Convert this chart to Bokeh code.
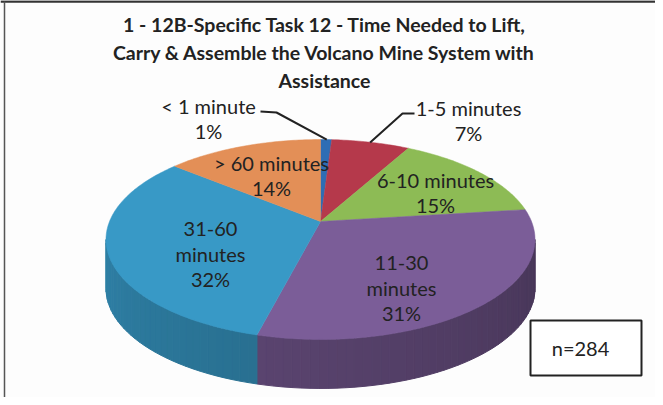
import math
from bokeh.plotting import figure
from bokeh.models import Range1d
from bokeh.core.properties import value
from bokeh.embed import file_html
from bokeh.resources import INLINE

# ---- data ----
categories = ["< 1 minute", "1-5 minutes", "6-10 minutes", "11-30 minutes", "31-60 minutes", "> 60 minutes"]
percents = [1, 7, 15, 31, 32, 14]
title_lines = ["1 - 12B-Specific Task 12 - Time Needed to Lift,",
               "Carry & Assemble the Volcano Mine System with",
               "Assistance"]
n_text = "n=284"

# ---- style / layout ----
top_colors = ["#2E6DB4", "#B5394B", "#8DBB55", "#7B5D98", "#3899C6", "#E38F57"]
label_lines = [["< 1 minute", "1%"], ["1-5 minutes", "7%"], ["6-10 minutes", "15%"],
               ["11-30", "minutes", "31%"], ["31-60", "minutes", "32%"], ["> 60 minutes", "14%"]]
label_pos = [(216, 113), (476, 115), (443, 187), (409, 270), (218, 236), (279, 170)]
LINE_H = 25
FONT = "Lato"
TXT = "#222222"

CX, AX = 328.0, 211.0
B0, AY, P = 229.0, 55.5, 0.18
DEPTH = 49.0


def proj(theta_deg, yoff=0.0):
    t = math.radians(theta_deg)
    u, v = math.sin(t), -math.cos(t)
    w = 1 - P * v
    return CX + AX * u / w, (B0 + AY * v) / w + yoff


def shade(hexc, f):
    r, g, b = int(hexc[1:3], 16), int(hexc[3:5], 16), int(hexc[5:7], 16)
    return "#%02x%02x%02x" % (int(r * f), int(g * f), int(b * f))


p = figure(width=655, height=397, x_range=Range1d(8, 663), y_range=Range1d(405, 8),
           output_backend="svg", toolbar_location=None, min_border=0,
           x_axis_location=None, y_axis_location=None, outline_line_color=None,
           background_fill_color="#FDFDFD", border_fill_color="#FDFDFD")
p.grid.visible = False

# slice angles
bounds = [0.0]
for pc in percents:
    bounds.append(bounds[-1] + pc * 3.6)

# side walls (visible front part)
vis0 = math.degrees(math.acos(-P))          # ~100.4
vis1 = 360 - vis0
xs_s, ys_s, cs_s = [], [], []
for i, pc in enumerate(percents):
    a, b = max(bounds[i], vis0), min(bounds[i + 1], vis1)
    if b <= a:
        continue
    nseg = max(1, int((b - a) / 2))
    for k in range(nseg):
        t0 = a + (b - a) * k / nseg
        t1 = a + (b - a) * (k + 1) / nseg
        x0, y0 = proj(t0)
        x1, y1 = proj(t1)
        xs_s.append([x0, x1, x1, x0])
        ys_s.append([y0, y1, y1 + DEPTH, y0 + DEPTH])
        tm = (t0 + t1) / 2
        f = 0.58 + 0.26 * (tm - vis0) / (vis1 - vis0)
        cs_s.append(shade(top_colors[i], f))
p.patches(xs_s, ys_s, fill_color=cs_s, line_color=cs_s, line_width=1)

# top faces
xs_t, ys_t = [], []
for i in range(len(percents)):
    a, b = bounds[i], bounds[i + 1]
    n = max(2, int(b - a) + 1)
    xx, yy = [CX], [B0]
    for k in range(n + 1):
        x, y = proj(a + (b - a) * k / n)
        xx.append(x)
        yy.append(y)
    xs_t.append(xx)
    ys_t.append(yy)
p.patches(xs_t, ys_t, fill_color=top_colors, line_color=top_colors, line_width=0.5)

# leader lines
p.line([268, 284, proj(2)[0]], [119, 120, proj(2)[1]], line_color="#222222", line_width=2)
p.line([proj(17)[0] - 3, 410, 422], [proj(17)[1], 121, 121], line_color="#222222", line_width=2)

# labels
for lines, (lx, ly) in zip(label_lines, label_pos):
    for j, s in enumerate(lines):
        p.text(x=[lx], y=[ly + j * LINE_H], text=[s], text_font=value(FONT),
               text_font_size="20px", text_color=TXT, text_align="center",
               text_baseline="middle")

# title
for j, s in enumerate(title_lines):
    p.text(x=[332], y=[32 + j * 28], text=[s], text_font=value(FONT),
           text_font_size="19.5px", text_font_style="bold", text_color=TXT,
           text_align="center", text_baseline="middle")

# n box
p.quad(left=[538], right=[649], top=[328], bottom=[383], fill_color="white",
       line_color="#222222", line_width=2)
p.text(x=[588], y=[355], text=[n_text], text_font=value(FONT), text_font_size="20px",
       text_color=TXT, text_align="center", text_baseline="middle")

# frame lines
p.line([8, 663], [9, 9], line_color="#333333", line_width=2.5)
p.line([12, 12], [9, 405], line_color="#555555", line_width=1.5)

open("out.html", "w").write(file_html(p, INLINE))
